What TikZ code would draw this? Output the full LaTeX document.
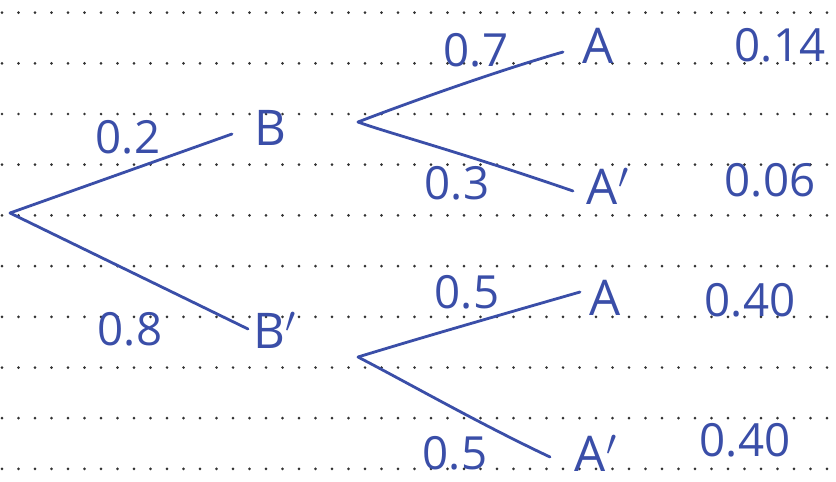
\documentclass[tikz,border=0pt]{standalone}
\usepackage{fontspec}
\setmainfont{Open Sans}
\usepackage{tikz}

\definecolor{ink}{RGB}{58,78,168}
\definecolor{dotc}{RGB}{50,50,50}

\tikzset{
	branch/.style={ink,line width=1.6pt,line cap=round},
	event/.style={ink,inner sep=0pt,font=\fontsize{28}{32}\selectfont},
	prob/.style={ink,inner sep=0pt,font=\fontsize{26}{30}\selectfont}
}

\begin{document}
\begin{tikzpicture}[x=0.02cm,y=-0.02cm]
		\useasboundingbox (0,0) rectangle (836,481);

		% >>> dotted paper
		\foreach \r in {0,...,9}
			\foreach \c in {0,...,50}
				\fill[dotc] (2+16.5*\c,12.6+50.7*\r) circle (0.85pt);
		% <<< dotted paper

		% >>> events
		\coordinate (root) at (10,213);
		\node[event] (b) at (270,128) {B};
		\node[event] (bc) at (275,330) {B$'$};
		\node[event] (a1) at (598,46) {A};
		\node[event] (ac1) at (608,186) {A$'$};
		\node[event] (a2) at (605,298) {A};
		\node[event] (ac2) at (596,453) {A$'$};
		% <<< events

		% >>> ends of the branches
		\coordinate (bin) at (232,134);
		\coordinate (bout) at (358,122);
		\coordinate (bcin) at (248,329);
		\coordinate (bcout) at (358,357);
		\coordinate (a1in) at (563,52);
		\coordinate (ac1in) at (573,191);
		\coordinate (a2in) at (580,292);
		\coordinate (ac2in) at (550,457);
		% <<< ends of the branches

		% >>> branches
		\draw[branch] (root) -- (bin);
		\draw[branch] (root) -- (bcin);
		\draw[branch] (bout) .. controls (410,102) and (500,70) .. (a1in);
		\draw[branch] (bout) .. controls (385,132) and (460,152) .. (ac1in);
		\draw[branch] (bcout) .. controls (420,338) and (500,315) .. (a2in);
		\draw[branch] (bcout) .. controls (410,384) and (480,424) .. (ac2in);
		% <<< branches

		% >>> probabilities
		\node[prob] (p1) at (128,137) {0.2};
		\node[prob] (p2) at (130,329) {0.8};
		\node[prob] (p3) at (476,50) {0.7};
		\node[prob] (p4) at (457,183) {0.3};
		\node[prob] (p5) at (467,292) {0.5};
		\node[prob] (p6) at (455,453) {0.5};
		% <<< probabilities

		% >>> products
		\node[prob] (q1) at (780,45) {0.14};
		\node[prob] (q2) at (770,180) {0.06};
		\node[prob] (q3) at (750,300) {0.40};
		\node[prob] (q4) at (745,440) {0.40};
		% <<< products
	\end{tikzpicture}
\end{document}
